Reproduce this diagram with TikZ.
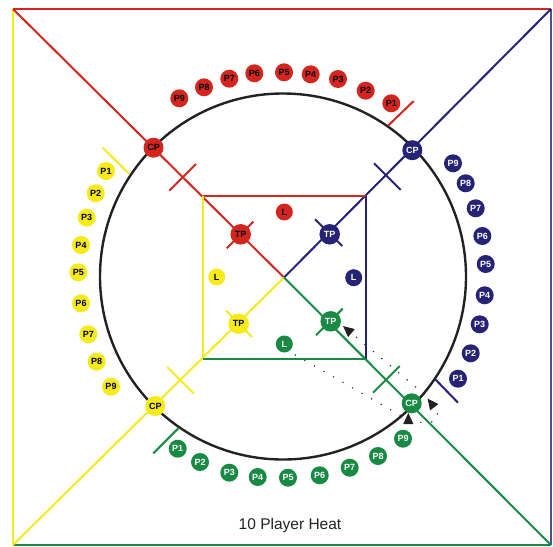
\documentclass[tikz,border=0pt]{standalone}
\usepackage{fontspec}
\setmainfont{Liberation Sans}
\usetikzlibrary{arrows.meta}
\definecolor{cred}{RGB}{212,38,30}
\definecolor{cnavy}{RGB}{38,34,118}
\definecolor{cyel}{RGB}{246,234,24}
\definecolor{cgrn}{RGB}{24,138,68}
\definecolor{cink}{RGB}{34,34,34}
\begin{document}
\begin{tikzpicture}[x=1pt,y=-1pt,
  sqline/.style={line width=2.3pt},
  diag/.style={line width=2pt},
  tickl/.style={line width=2pt},
  pl/.style={circle, inner sep=0pt, minimum size=18pt, font=\bfseries\fontsize{9}{10}\selectfont},
  cpn/.style={pl, minimum size=20pt},
  tpn/.style={pl, minimum size=20.5pt},
  ln/.style={pl, minimum size=17pt},
  rc/.style={fill=cred, text=black},
  bc/.style={fill=cnavy, text=white},
  yc/.style={fill=cyel, text=black},
  gc/.style={fill=cgrn, text=white},
  dotpath/.style={cink, line width=1.6pt, line cap=round, dash pattern=on 0pt off 11pt},
  tip/.style={-{Triangle[length=11pt,width=10pt]}}
]
\useasboundingbox (0,0) rectangle (553,546);
% corners and centre
\coordinate (TL) at (13,9);
\coordinate (TR) at (551,9);
\coordinate (BL) at (13,545);
\coordinate (BR) at (551,545);
\coordinate (C) at (284,277.5);
\coordinate (iTL) at (203,196);
\coordinate (iTR) at (366,196);
\coordinate (iBL) at (203,359);
\coordinate (iBR) at (366,359);
% outer square
\draw[sqline,cyel] (TL) -- (BL);
\draw[sqline,cnavy!80!white] (TR) -- (BR);
\draw[sqline,cred] (TL) -- (TR);
\draw[sqline,cgrn] (BL) -- (BR);
% diagonals
\draw[diag,cred] (TL) -- (C);
\draw[diag,cnavy] (TR) -- (C);
\draw[diag,cyel] (BL) -- (C);
\draw[diag,cgrn] (BR) -- (C);
% circle
\draw[cink, line width=2.4pt] (283,276.5) circle[radius=183pt];
% inner square
\draw[sqline,cred] (iTL) -- (iTR);
\draw[sqline,cyel] (iTL) -- (iBL);
\draw[sqline,cnavy] (iTR) -- (iBR);
\draw[sqline,cgrn] (iBL) -- (iBR);
% ticks across diagonals
\draw[tickl,cred] (169.3,190.7) -- (196,164);
\draw[tickl,cnavy] (374,163.3) -- (400.7,190);
\draw[tickl,cyel] (167.3,367) -- (194,393.7);
\draw[tickl,cgrn] (373,392.7) -- (399.7,366);
% ticks through TP
\draw[tickl,cred] (226.7,248.3) -- (253.3,221.7);
\draw[tickl,cnavy] (315,219.3) -- (342.3,246);
\draw[tickl,cyel] (226,310.5) -- (252,337);
\draw[tickl,cgrn] (316,335.3) -- (342.7,308.7);
% P1 start ticks
\draw[tickl,cred] (388,125.7) -- (413.7,101);
\draw[tickl,cyel] (129.3,174) -- (102.7,147.7);
\draw[tickl,cgrn] (178.3,428.3) -- (153.3,453.3);
\draw[tickl,cnavy] (434.7,378.7) -- (458,402.7);
% CP nodes
\node[cpn,rc] (rCP) at (153.5,147.7) {CP};
\node[cpn,bc] (bCP) at (412.3,150.2) {CP};
\node[cpn,yc] (yCP) at (155.3,406) {CP};
\node[cpn,gc] (gCP) at (411.7,403.3) {CP};
% TP nodes
\node[tpn,rc] (rTP) at (240.7,234.3) {TP};
\node[tpn,bc] (bTP) at (329.7,234.3) {TP};
\node[tpn,yc] (yTP) at (238.7,323.7) {TP};
\node[tpn,gc] (gTP) at (330.7,321.3) {TP};
% L nodes
\node[ln,rc] (rL) at (284.3,212) {L};
\node[ln,bc] (bL) at (353.7,277.7) {L};
\node[ln,yc] (yL) at (216.7,277) {L};
\node[ln,gc] (gL) at (284.3,344) {L};
% red players
\foreach \n/\x/\y in {1/391.3/103.3,2/365.7/90.7,3/338/79,4/310.7/74.3,5/284/72.3,6/254.3/73.3,7/229.3/78.7,8/204/87.3,9/179.3/98.3}
  \node[pl,rc] (rP\n) at (\x,\y) {P\n};
% blue players
\foreach \n/\x/\y in {1/458/378.7,2/470.7/353.3,3/479.7/324.3,4/484.7/295.3,5/485.7/264,6/482.3/236,7/475.7/208.3,8/465.7/183.3,9/453/163.3}
  \node[pl,bc] (bP\n) at (\x,\y) {P\n};
% green players
\foreach \n/\x/\y in {1/177.7/448.7,2/200/462,3/229.3/472.7,4/257.7/477,5/288/477.7,6/319.7/475.3,7/349.7/467.7,8/378/456,9/403/438.7}
  \node[pl,gc] (gP\n) at (\x,\y) {P\n};
% yellow players
\foreach \n/\x/\y in {1/106/171,2/95.7/193.3,3/86.7/217.7,4/81/245,5/78.3/272.3,6/81/303.3,7/88.3/334.3,8/96.7/361.7,9/111/386.7}
  \node[pl,yc] (yP\n) at (\x,\y) {P\n};
% movement paths
\coordinate (aEnd) at (427.5,398.5);
\coordinate (bStart) at (424,394);
\coordinate (bEnd) at (343,326);
\coordinate (cStart) at (408.3,426);
\coordinate (cEnd) at (408.3,413);
\draw[dotpath,tip] (gL) ++(11,11) -- (398,414) .. controls (420,428) and (448,425) .. (aEnd);
\draw[dotpath,tip] (bStart) -- (bEnd);
\draw[dash pattern=on 0pt off 100pt,cink,tip] (cStart) -- (cEnd);
% caption
\node[font=\fontsize{15.5}{18}\selectfont, text=cink] (cap) at (290,525) {10 Player Heat};
\end{tikzpicture}
\end{document}
